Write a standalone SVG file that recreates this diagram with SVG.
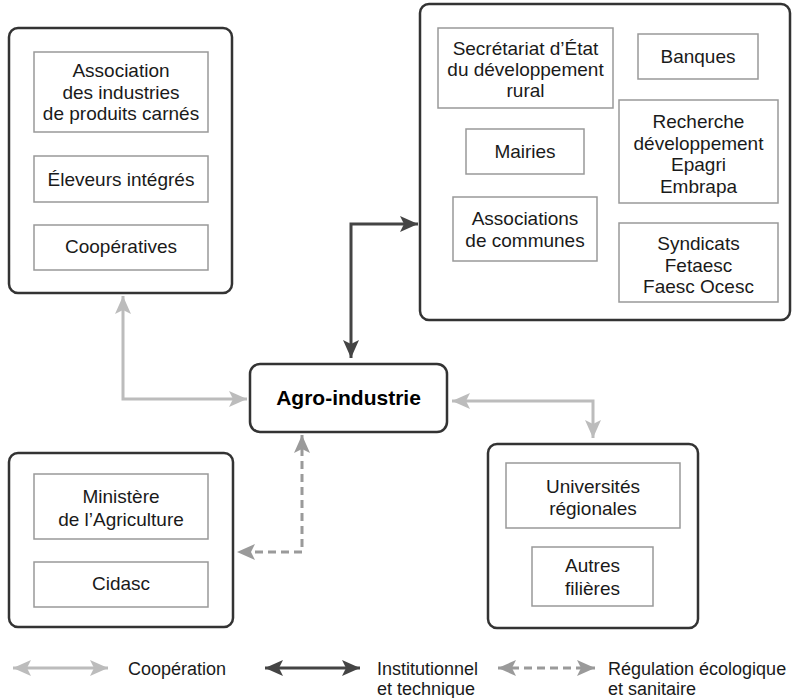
<svg xmlns="http://www.w3.org/2000/svg" width="792" height="698" viewBox="0 0 792 698">
<defs>
<style>
.outer{fill:#fff;stroke:#333;stroke-width:2.5}
.inner{fill:#fff;stroke:#999;stroke-width:1.5}
.t{font-family:"Liberation Sans",Arial,Helvetica,sans-serif;font-size:19px;fill:#1a1a1a;text-anchor:middle}
.b{font-family:"Liberation Sans",Arial,Helvetica,sans-serif;font-size:21px;font-weight:bold;fill:#000;text-anchor:middle}
.lg{font-family:"Liberation Sans",Arial,Helvetica,sans-serif;font-size:18px;fill:#1a1a1a}
.coop{fill:none;stroke:#bcbcbc;stroke-width:3}
.inst{fill:none;stroke:#444;stroke-width:3}
.reg{fill:none;stroke:#9a9a9a;stroke-width:3;stroke-dasharray:8 5}
</style>
<marker id="aCoop" viewBox="0 0 18 16" refX="18" refY="8" markerWidth="18" markerHeight="16" markerUnits="userSpaceOnUse" orient="auto-start-reverse"><path d="M0,0 L18,8 L0,16 L4,8 z" fill="#bcbcbc"/></marker>
<marker id="aInst" viewBox="0 0 18 16" refX="18" refY="8" markerWidth="18" markerHeight="16" markerUnits="userSpaceOnUse" orient="auto-start-reverse"><path d="M0,0 L18,8 L0,16 L4,8 z" fill="#444"/></marker>
<marker id="aReg" viewBox="0 0 18 16" refX="18" refY="8" markerWidth="18" markerHeight="16" markerUnits="userSpaceOnUse" orient="auto-start-reverse"><path d="M0,0 L18,8 L0,16 L4,8 z" fill="#9a9a9a"/></marker>
</defs>
<rect width="792" height="698" fill="#fff"/>

<g id="connectors">
<path class="coop" d="M123,296 V399 H247" marker-start="url(#aCoop)" marker-end="url(#aCoop)"/>
<path class="inst" d="M351,358 V224 H418" marker-start="url(#aInst)" marker-end="url(#aInst)"/>
<path class="coop" d="M452,401 H593 V438" marker-start="url(#aCoop)" marker-end="url(#aCoop)"/>
<path class="reg" d="M302,435 V552 H237" marker-start="url(#aReg)" marker-end="url(#aReg)"/>
</g>

<g id="filiere">
<rect class="outer" x="9" y="28" width="223" height="265" rx="9"/>
<g id="assoc-industries"><rect class="inner" x="34" y="52" width="174" height="80"/>
<text class="t" x="121" y="77">Association</text><text class="t" x="121" y="98.5">des industries</text><text class="t" x="121" y="120">de produits carnés</text></g>
<g id="eleveurs"><rect class="inner" x="34" y="156" width="174" height="46"/><text class="t" x="121" y="186">Éleveurs intégrés</text></g>
<g id="cooperatives"><rect class="inner" x="34" y="225" width="174" height="45"/><text class="t" x="121" y="253">Coopératives</text></g>
</g>

<g id="institutions">
<rect class="outer" x="420" y="4" width="370" height="316" rx="9"/>
<g id="secretariat"><rect class="inner" x="438" y="28" width="175" height="80"/>
<text class="t" x="525.5" y="55">Secrétariat d’État</text><text class="t" x="525.5" y="76">du développement</text><text class="t" x="525.5" y="97">rural</text></g>
<g id="banques"><rect class="inner" x="638" y="34" width="120" height="45"/><text class="t" x="698" y="63">Banques</text></g>
<g id="recherche"><rect class="inner" x="619" y="100" width="159" height="103"/>
<text class="t" x="698.5" y="128">Recherche</text><text class="t" x="698.5" y="149.5">développement</text><text class="t" x="698.5" y="171">Epagri</text><text class="t" x="698.5" y="192.5">Embrapa</text></g>
<g id="mairies"><rect class="inner" x="466" y="129" width="118" height="45"/><text class="t" x="525" y="158">Mairies</text></g>
<g id="associations-communes"><rect class="inner" x="453" y="197" width="144" height="64"/>
<text class="t" x="525" y="225">Associations</text><text class="t" x="525" y="247">de communes</text></g>
<g id="syndicats"><rect class="inner" x="619" y="223" width="159" height="79"/>
<text class="t" x="698.5" y="250">Syndicats</text><text class="t" x="698.5" y="271.5">Fetaesc</text><text class="t" x="698.5" y="293">Faesc Ocesc</text></g>
</g>

<g id="agro-industrie">
<rect class="outer" x="250" y="364" width="197" height="68" rx="10"/>
<text class="b" x="348.5" y="405">Agro-industrie</text>
</g>

<g id="regulation">
<rect class="outer" x="9" y="453" width="224" height="174" rx="9"/>
<g id="ministere"><rect class="inner" x="34" y="474" width="174" height="65"/>
<text class="t" x="121" y="503">Ministère</text><text class="t" x="121" y="526">de l’Agriculture</text></g>
<g id="cidasc"><rect class="inner" x="34" y="562" width="174" height="45"/><text class="t" x="121" y="590">Cidasc</text></g>
</g>

<g id="cooperation-sud">
<rect class="outer" x="488" y="444" width="210" height="184" rx="9"/>
<g id="universites"><rect class="inner" x="506" y="463" width="174" height="65"/>
<text class="t" x="593" y="493">Universités</text><text class="t" x="593" y="515">régionales</text></g>
<g id="autres-filieres"><rect class="inner" x="532" y="547" width="121" height="59"/>
<text class="t" x="592.5" y="572">Autres</text><text class="t" x="592.5" y="595">filières</text></g>
</g>

<g id="legend">
<path class="coop" d="M13,668 H108" marker-start="url(#aCoop)" marker-end="url(#aCoop)"/>
<text class="lg" x="128" y="675">Coopération</text>
<path class="inst" d="M265,668 H360" marker-start="url(#aInst)" marker-end="url(#aInst)"/>
<text class="lg" x="377" y="675">Institutionnel</text><text class="lg" x="377" y="695">et technique</text>
<path class="reg" d="M498,668 H595" marker-start="url(#aReg)" marker-end="url(#aReg)"/>
<text class="lg" x="608" y="675">Régulation écologique</text><text class="lg" x="608" y="695">et sanitaire</text>
</g>
</svg>
